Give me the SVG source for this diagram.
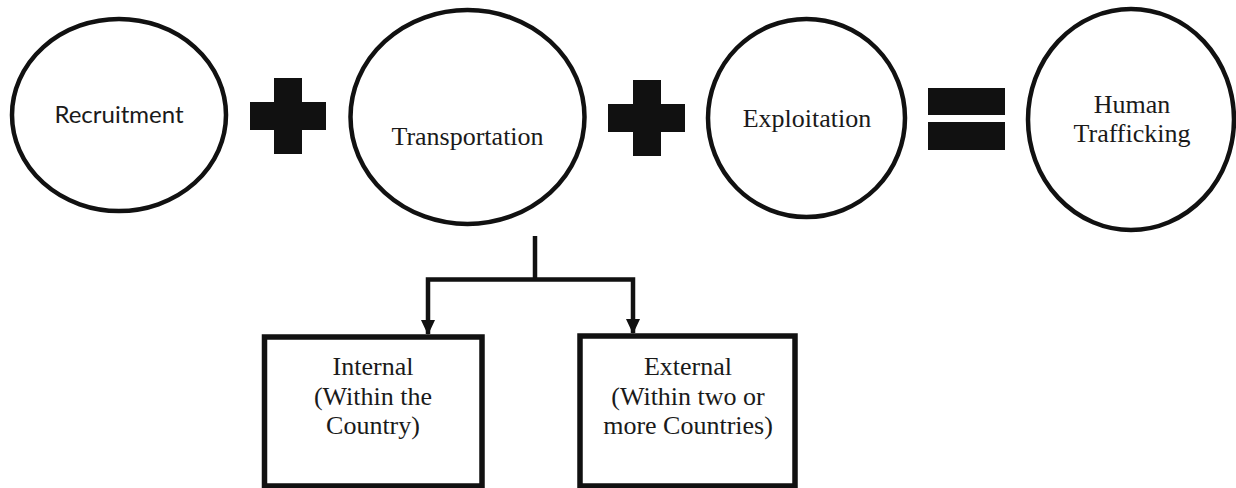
<svg xmlns="http://www.w3.org/2000/svg" width="1236" height="488" viewBox="0 0 1236 488">
<style>
.node ellipse{fill:#fff;stroke:#111;stroke-width:4.5}
.node rect{fill:#fff;stroke:#111;stroke-width:5.5}
.serif{font-family:"Liberation Serif","Times New Roman",serif;font-size:26px;fill:#1a1a1a;text-anchor:middle}
.sans{font-family:Lato,"Open Sans",sans-serif;font-size:24px;fill:#1a1a1a;text-anchor:middle}
.op{fill:#111}
.conn{fill:none;stroke:#111;stroke-width:4.5}
</style>
<defs>
<marker id="arrow" markerWidth="15" markerHeight="14" refX="14" refY="7" orient="auto" markerUnits="userSpaceOnUse" viewBox="0 0 15 14">
<path d="M0,0 L15,7 L0,14 Z" fill="#111"/>
</marker>
</defs>
<rect width="1236" height="488" fill="#fff"/>
<g id="recruitment" class="node">
<ellipse cx="119" cy="115" rx="107" ry="96"/>
<text class="sans" x="119" y="123">Recruitment</text>
</g>
<g id="plus1" class="op">
<rect x="250" y="102" width="76" height="28"/>
<rect x="274" y="78" width="28" height="76"/>
</g>
<g id="transportation" class="node">
<ellipse cx="467.5" cy="117" rx="117" ry="107"/>
<text class="serif" x="467.5" y="145">Transportation</text>
</g>
<g id="plus2" class="op">
<rect x="608" y="104" width="77" height="28"/>
<rect x="633" y="80" width="28" height="76"/>
</g>
<g id="exploitation" class="node">
<ellipse cx="806.5" cy="118" rx="98.5" ry="99"/>
<text class="serif" x="807" y="127">Exploitation</text>
</g>
<g id="equals" class="op">
<rect x="928" y="88" width="77" height="27"/>
<rect x="928" y="122" width="77" height="28"/>
</g>
<g id="human-trafficking" class="node">
<ellipse cx="1131" cy="119.5" rx="103" ry="110.5"/>
<text class="serif" x="1132" y="113">Human</text>
<text class="serif" x="1132" y="142">Trafficking</text>
</g>
<g id="internal" class="node">
<rect x="264.5" y="337" width="217.5" height="149"/>
<text class="serif" x="373" y="375">Internal</text>
<text class="serif" x="373" y="405">(Within the</text>
<text class="serif" x="373" y="434">Country)</text>
</g>
<g id="external" class="node">
<rect x="580" y="336" width="215" height="150"/>
<text class="serif" x="688" y="375">External</text>
<text class="serif" x="688" y="405">(Within two or</text>
<text class="serif" x="688" y="434">more Countries)</text>
</g>
<g id="connectors">
<path class="conn" d="M535,236 V279.5"/>
<path class="conn" d="M535,279.5 H428 V334" marker-end="url(#arrow)"/>
<path class="conn" d="M535,279.5 H633 V333" marker-end="url(#arrow)"/>
</g>
</svg>
